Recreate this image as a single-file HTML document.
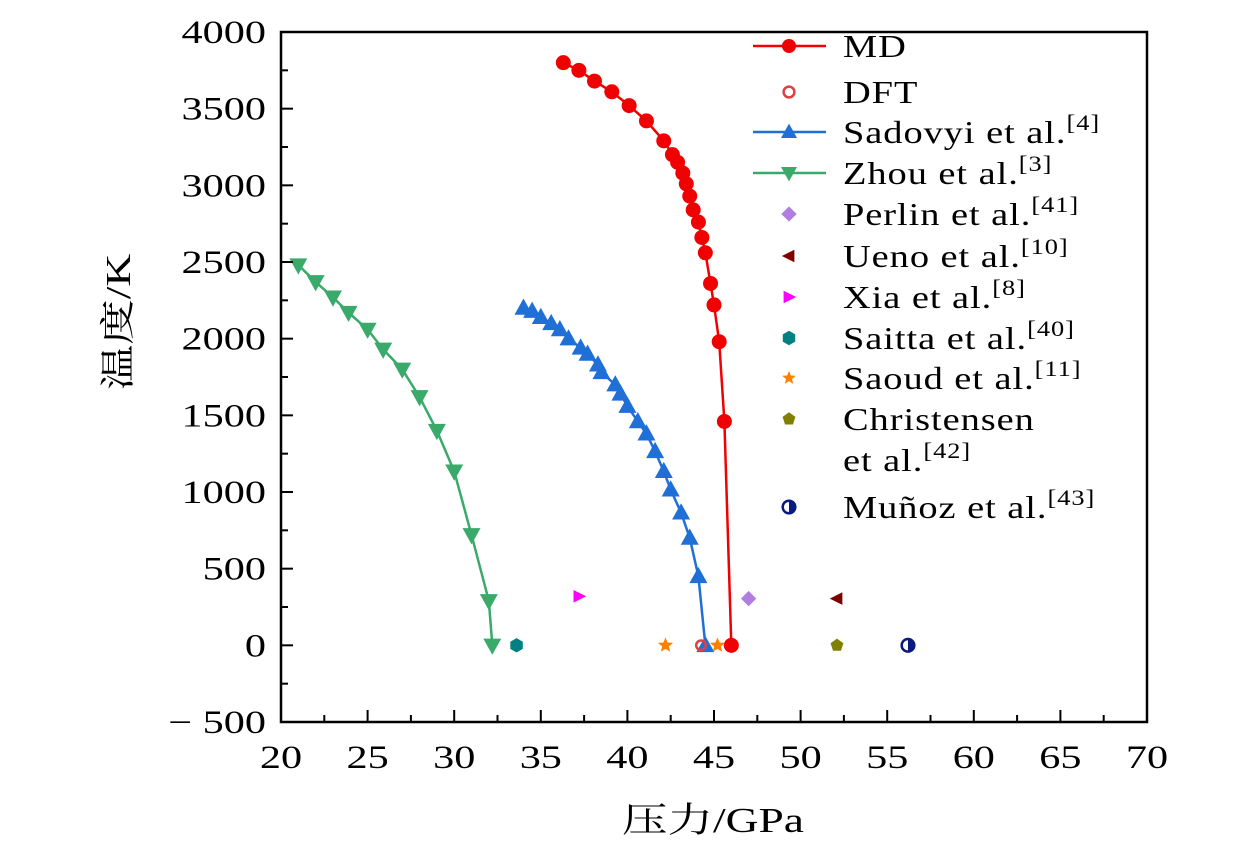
<!DOCTYPE html>
<html><head><meta charset="utf-8"><style>
body{margin:0;background:#fff;}
svg{display:block;font-family:"Liberation Serif","Noto Serif CJK SC",serif;}
</style></head><body>
<svg id="chart" width="1260" height="850" viewBox="0 0 1260 850" xmlns="http://www.w3.org/2000/svg">
<g id="plot"></g>
<g id="axes"></g>
<g id="legend"></g>
</svg>
<script>
const xTicks=[20,25,30,35,40,45,50,55,60,65,70];
const yTicks=[-500,0,500,1000,1500,2000,2500,3000,3500,4000];
const mdP=[36.3,37.2,38.1,39.1,40.1,41.1,42.1,42.6,42.9,43.2,43.4,43.6,43.8,44.1,44.3,44.5,44.8,45.0,45.3,45.6,46.0];
const mdT=[3800,3750,3680,3610,3520,3420,3290,3200,3150,3080,3010,2930,2840,2760,2660,2560,2360,2220,1980,1460,0];
const sadP=[34.0,34.5,35.0,35.6,36.1,36.6,37.3,37.7,38.3,38.5,39.3,39.6,40.0,40.6,41.1,41.6,42.1,42.5,43.1,43.6,44.1,44.5];
const sadT=[2200,2180,2140,2100,2060,2000,1940,1900,1830,1780,1700,1640,1560,1460,1380,1265,1135,1015,865,700,450,0];
const zhouP=[21.0,22.0,23.0,23.9,25.0,25.9,27.0,28.0,29.0,30.0,31.0,32.0,32.2];
const zhouT=[2480,2370,2270,2170,2060,1930,1800,1620,1400,1135,720,290,0];
const dftP=[44.25], dftT=[0];
const perlinP=[47.0], perlinT=[305];
const uenoP=[52.1], uenoT=[305];
const xiaP=[37.2], xiaT=[320];
const saittaP=[33.6], saittaT=[0];
const saoudP=[42.2,45.2], saoudT=[0,0];
const chrisP=[52.1], chrisT=[0];
const munozP=[56.2], munozT=[0];

const L=281,R=1147,T=32,B=722;
const X=p=>L+(p-20)/50*(R-L);
const Y=t=>B-(t+500)/4500*(B-T);
const NS="http://www.w3.org/2000/svg";
function mk(tag,attrs,parent){const e=document.createElementNS(NS,tag);for(const k in attrs)e.setAttribute(k,attrs[k]);parent.appendChild(e);return e;}
const plot=document.getElementById('plot'),axes=document.getElementById('axes'),leg=document.getElementById('legend');

function marker(kind,x,y,c,parent,s){
  s=s||8;let e;
  if(kind==='circle')e=mk('circle',{cx:x,cy:y,r:s,fill:c},parent);
  else if(kind==='ocircle')e=mk('circle',{cx:x,cy:y,r:s*0.6,fill:'none',stroke:c,'stroke-width':2.5},parent);
  else if(kind==='up')e=mk('polygon',{points:`${x},${y-s*1.05} ${x-s},${y+s*0.75} ${x+s},${y+s*0.75}`,fill:c},parent);
  else if(kind==='down')e=mk('polygon',{points:`${x},${y+s*1.05} ${x-s},${y-s*0.75} ${x+s},${y-s*0.75}`,fill:c},parent);
  else if(kind==='diamond')e=mk('polygon',{points:`${x},${y-s*0.85} ${x+s*0.85},${y} ${x},${y+s*0.85} ${x-s*0.85},${y}`,fill:c},parent);
  else if(kind==='left')e=mk('polygon',{points:`${x-s*0.8},${y} ${x+s*0.6},${y-s*0.7} ${x+s*0.6},${y+s*0.7}`,fill:c},parent);
  else if(kind==='right')e=mk('polygon',{points:`${x+s*0.8},${y} ${x-s*0.6},${y-s*0.7} ${x-s*0.6},${y+s*0.7}`,fill:c},parent);
  else if(kind==='hex'){let pts=[];for(let i=0;i<6;i++){const a=Math.PI/3*i+Math.PI/6;pts.push((x+s*0.8*Math.cos(a))+','+(y+s*0.8*Math.sin(a)));}e=mk('polygon',{points:pts.join(' '),fill:c},parent);}
  else if(kind==='star'){let pts=[];for(let i=0;i<10;i++){const a=-Math.PI/2+Math.PI/5*i;const r=i%2?s*0.35:s*0.8;pts.push((x+r*Math.cos(a))+','+(y+r*Math.sin(a)));}e=mk('polygon',{points:pts.join(' '),fill:c},parent);}
  else if(kind==='pent'){let pts=[];for(let i=0;i<5;i++){const a=-Math.PI/2+2*Math.PI/5*i;pts.push((x+s*0.75*Math.cos(a))+','+(y+s*0.75*Math.sin(a)));}e=mk('polygon',{points:pts.join(' '),fill:c},parent);}
  else if(kind==='half'){const g=mk('g',{},parent);mk('circle',{cx:x,cy:y,r:s*0.7,fill:'#fff',stroke:c,'stroke-width':2.5},g);mk('path',{d:`M${x},${y-s*0.7} A${s*0.7},${s*0.7} 0 0 1 ${x},${y+s*0.7} Z`,fill:c},g);e=g;}
  return e;
}
function series(name,P,Tv,c,kind,line,s){
  const g=mk('g',{},plot);
  
  
  if(line){const l=mk('polyline',{points:P.map((p,i)=>X(p)+','+Y(Tv[i])).join(' '),fill:'none',stroke:c,'stroke-width':2.5},g);
    
    }
  P.forEach((p,i)=>{const m=marker(kind,X(p),Y(Tv[i]),c,g,s);
    
    });
}
series('zhou-series',zhouP,zhouT,'#3aaa6a','down',true,9);
series('sadovyi-series',sadP,sadT,'#1f6fd6','up',true,9);
series('md-series',mdP,mdT,'#f00000','circle',true,7.5);
series('dft-series',dftP,dftT,'#e04040','ocircle',false,8);
series('perlin-series',perlinP,perlinT,'#b07de0','diamond',false,9);
series('ueno-series',uenoP,uenoT,'#800000','left',false,9);
series('xia-series',xiaP,xiaT,'#ff00ff','right',false,9);
series('saitta-series',saittaP,saittaT,'#008080','hex',false,9);
series('saoud-series',saoudP,saoudT,'#ff8000','star',false,10);
series('christensen-series',chrisP,chrisT,'#808000','pent',false,9);
series('munoz-series',munozP,munozT,'#0a1a80','half',false,9);

const fr=mk('rect',{x:L,y:T,width:R-L,height:B-T,fill:'none',stroke:'#000','stroke-width':2.5},axes);


xTicks.forEach((v,i)=>{
  const x=X(v);
  const t=mk('line',{x1:x,y1:B,x2:x,y2:B-12,stroke:'#000','stroke-width':2},axes);
  
  
  if(i<xTicks.length-1){const m=mk('line',{x1:X(v+2.5),y1:B,x2:X(v+2.5),y2:B-7,stroke:'#000','stroke-width':2},axes);
    
    }
  const lb=mk('text',{x:0,y:0,'text-anchor':'middle','font-size':33,transform:`translate(${x},${B+46}) scale(1.28,1)`},axes);lb.textContent=v;
  
  
});
yTicks.forEach((v,i)=>{
  const y=Y(v);
  const t=mk('line',{x1:L,y1:y,x2:L+12,y2:y,stroke:'#000','stroke-width':2},axes);
  
  
  if(i<yTicks.length-1){const m=mk('line',{x1:L,y1:Y(v+250),x2:L+7,y2:Y(v+250),stroke:'#000','stroke-width':2},axes);
    
    }
  const lb=mk('text',{x:0,y:0,'text-anchor':'end','font-size':33,transform:`translate(${L-15},${y+11}) scale(1.28,1)`},axes);lb.textContent=v<0?'\u2212 '+(-v):v;
  
  
});
const xt=mk('text',{x:0,y:0,'text-anchor':'middle','font-size':35,transform:'translate(713,832) scale(1.3,1)'},axes);xt.textContent='压力/GPa';


const yt=mk('text',{x:0,y:0,'text-anchor':'middle','font-size':35,transform:'translate(130,322) rotate(-90) scale(1.3,1)'},axes);yt.textContent='温度/K';



const legItems=[
 ['MD','','#f00000','circle',true,46],
 ['DFT','','#e04040','ocircle',false,92],
 ['Sadovyi et al.','[4]','#1f6fd6','up',true,132],
 ['Zhou et al.','[3]','#3aaa6a','down',true,173],
 ['Perlin et al.','[41]','#b07de0','diamond',false,214],
 ['Ueno et al.','[10]','#800000','left',false,256],
 ['Xia et al.','[8]','#ff00ff','right',false,297],
 ['Saitta et al.','[40]','#008080','hex',false,338],
 ['Saoud et al.','[11]','#ff8000','star',false,378],
 ['Christensen','','#808000','pent',false,419],
 ['et al.','[42]','','',false,460],
 ['Muñoz et al.','[43]','#0a1a80','half',false,507]
];
legItems.forEach(it=>{
  const g=mk('g',{},leg);
  
  
  const y=it[5];
  if(it[4])mk('line',{x1:753,y1:y,x2:826,y2:y,stroke:it[2],'stroke-width':2.5},g);
  if(it[3])marker(it[3],789,y,it[2],g,it[3]==='circle'?7:(it[4]?8:9));
  const t=mk('text',{x:0,y:0,'font-size':32,transform:`translate(843,${y+11}) scale(1.2,1)`,'letter-spacing':0.8},g);
  t.textContent=it[0];
  if(it[1]){const s=mk('tspan',{'font-size':22,dy:-13},t);s.textContent=it[1];}
});
</script>
</body></html>
